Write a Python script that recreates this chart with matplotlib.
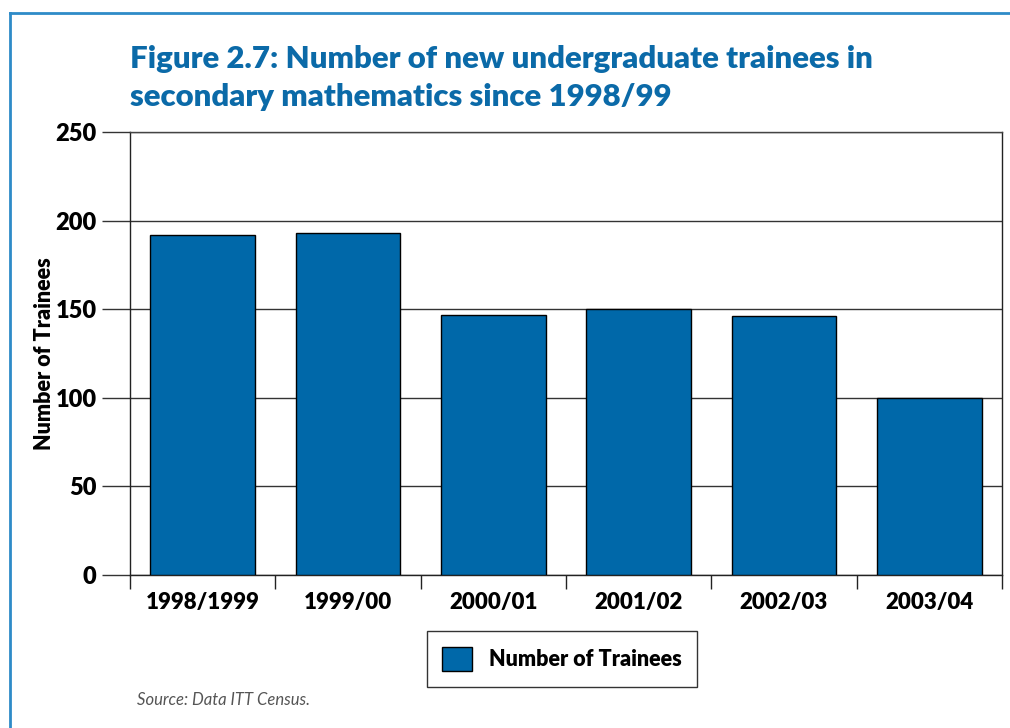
import matplotlib.pyplot as plt
from matplotlib.lines import Line2D
from matplotlib.patches import Patch

years = ['1998/1999', '1999/00', '2000/01', '2001/02', '2002/03', '2003/04']
trainees = [192, 193, 147, 150, 146, 100]

blue = '#0068a9'
title_blue = '#0b6aa8'

plt.rcParams['font.family'] = ['Lato', 'DejaVu Sans']
plt.rcParams['font.weight'] = 'bold'

fig = plt.figure(figsize=(10.1, 7.28), dpi=100)
ax = fig.add_axes([130 / 1010, 153 / 728, 872 / 1010, 443 / 728])

x = range(len(years))
ax.bar(x, trainees, width=0.72, color=blue, edgecolor='black', linewidth=1.0, zorder=3,
       label='Number of Trainees')

ax.set_xlim(-0.5, len(years) - 0.5)
ax.set_ylim(0, 250)
ax.set_yticks([0, 50, 100, 150, 200, 250])
ax.set_yticklabels(['0', '50', '100', '150', '200', '250'], fontsize=17, fontweight='heavy')
ax.yaxis.grid(True, color='#333333', linewidth=1.0, zorder=0)
ax.tick_params(axis='y', length=20, width=1.0, color='#333333', pad=4)

# category boundary ticks underneath
ax.set_xticks([i - 0.5 for i in range(len(years) + 1)], minor=False)
ax.set_xticklabels([''] * (len(years) + 1))
ax.tick_params(axis='x', which='major', length=10, width=1.0, color='#222222')
ax.set_xticks(list(x), minor=True)
ax.set_xticklabels(years, minor=True, fontsize=16, fontweight='heavy')
ax.tick_params(axis='x', which='minor', length=0, pad=12)

for s in ['left', 'right', 'top', 'bottom']:
    ax.spines[s].set_color('#222222')
    ax.spines[s].set_linewidth(1.0)
ax.spines['top'].set_color('#444444')

ax.set_ylabel('Number of Trainees', fontsize=15.5, fontweight='heavy')
ax.yaxis.set_label_coords(-(130 - 55) / 872, 0.5)

fig.text(130 / 1010, 1 - 78 / 728, 'Figure 2.7: Number of new undergraduate trainees in\nsecondary mathematics since 1998/99',
         color=title_blue, fontsize=22.4, fontweight='heavy', va='center', ha='left', linespacing=1.45)

handle = Patch(facecolor=blue, edgecolor='black', linewidth=1.0)
fig.legend([handle], ['Number of Trainees'], loc='center', bbox_to_anchor=(562 / 1010, 1 - 659 / 728),
           frameon=True, fancybox=False, edgecolor='black', prop={'weight': 'heavy', 'size': 15.5},
           handlelength=1.4, handleheight=1.4, borderpad=0.7, handletextpad=0.8)

fig.text(137 / 1010, 1 - 700 / 728, 'Source: Data ITT Census.', fontsize=12, style='italic',
         color='#555555', va='center', ha='left', fontweight='normal')

# border around the figure
fig.add_artist(Line2D([10 / 1010, 10 / 1010], [0, 1 - 13 / 728], transform=fig.transFigure,
                      color='#2e8bc8', linewidth=2))
fig.add_artist(Line2D([10 / 1010, 1], [1 - 13 / 728, 1 - 13 / 728], transform=fig.transFigure,
                      color='#2e8bc8', linewidth=2))

fig.savefig('out.png', dpi=100)
